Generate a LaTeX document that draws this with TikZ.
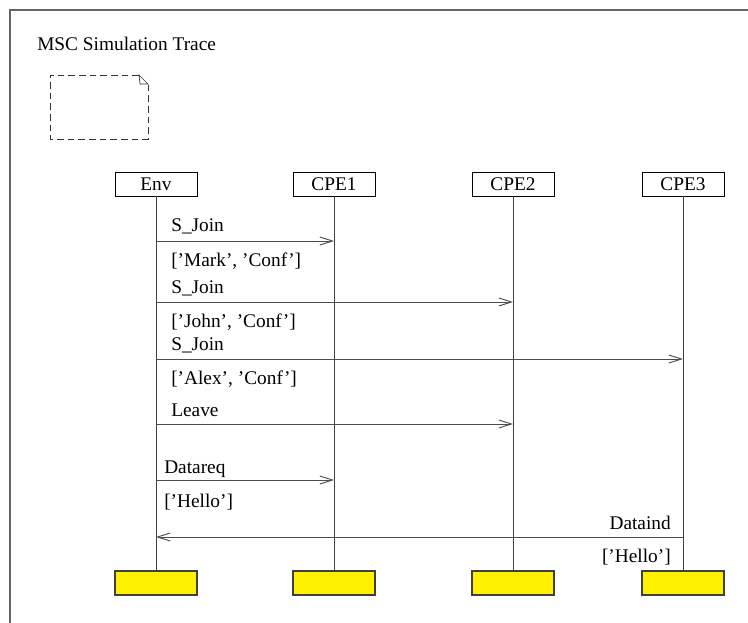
\documentclass[tikz,border=0pt]{standalone}
\usepackage{fontspec}
\setmainfont{Liberation Serif}
\usetikzlibrary{arrows.meta, positioning, calc}

\begin{document}
\begin{tikzpicture}[
    x=0.75pt, y=-0.75pt,
    font=\fontsize{14.5}{17}\selectfont,
    % --- Instance Heads ---
    instance/.style={
        draw=black,
        fill=white,
        line width=0.6pt,
        inner sep=0pt,
        minimum width=61.5pt,
        minimum height=18pt
    },
    % --- Instance Ends ---
    instance end/.style={
        draw=black!75,
        fill=yellow,
        line width=0.8pt,
        inner sep=0pt,
        minimum width=61.5pt,
        minimum height=18pt
    },
    % --- Lifelines ---
    lifeline/.style={
        draw=black!75,
        line width=0.7pt
    },
    % --- Messages ---
    msg arrow/.style={
        -{Straight Barb[length=9.5pt, width=6pt]},
        line width=0.7pt,
        color=black!70
    },
    % --- Message Texts ---
    msg label/.style={
        inner sep=0pt,
        anchor=base west
    },
    msg label right/.style={
        inner sep=0pt,
        anchor=base east
    }
]

    \useasboundingbox (0,0) rectangle (748,623);

    % =========================================
    % 1. FRAME AND TITLE
    % =========================================
    \draw[black!60, line width=1.5pt] (10,623) -- (10,10) -- (748,10);

    \node[msg label] (title) at (37,51) {MSC Simulation Trace};

    % Dashed comment sheet with folded corner
    \draw[black!80, line width=0.6pt, dash pattern=on 5pt off 3pt]
        (139,75) -- (50,75) -- (50,139) -- (148,139) -- (148,85);
    \draw[black!80, line width=0.5pt] (139,75) -- (148,84) -- (140,84) -- cycle;

    % =========================================
    % 2. INSTANCES
    % =========================================
    \foreach \name/\txt/\x in {env/Env/156, cpe1/CPE1/334, cpe2/CPE2/513, cpe3/CPE3/683} {
        \node[instance] (\name) at (\x,184) {\txt};
        \node[instance end] (\name end) at (\x,583) {};
        \draw[lifeline] (\name) -- (\name end);
    }

    % =========================================
    % 3. MESSAGES
    % =========================================
    \coordinate (m1) at (0,241);
    \coordinate (m2) at (0,302);
    \coordinate (m3) at (0,359);
    \coordinate (m4) at (0,424);
    \coordinate (m5) at (0,480);
    \coordinate (m6) at (0,537);

    \draw[msg arrow] (env |- m1) -- (cpe1 |- m1);
    \node[msg label] (m1 name) at (171,232) {S\_Join};
    \node[msg label] (m1 param) at (171,267) {['Mark', 'Conf']};

    \draw[msg arrow] (env |- m2) -- (cpe2 |- m2);
    \node[msg label] (m2 name) at (171,293) {S\_Join};
    \node[msg label] (m2 param) at (171,327) {['John', 'Conf']};

    \draw[msg arrow] (env |- m3) -- (cpe3 |- m3);
    \node[msg label] (m3 name) at (171,350) {S\_Join};
    \node[msg label] (m3 param) at (171,384) {['Alex', 'Conf']};

    \draw[msg arrow] (env |- m4) -- (cpe2 |- m4);
    \node[msg label] (m4 name) at (171,416) {Leave};

    \draw[msg arrow] (env |- m5) -- (cpe1 |- m5);
    \node[msg label] (m5 name) at (164,473) {Datareq};
    \node[msg label] (m5 param) at (164,507) {['Hello']};

    \draw[msg arrow] (cpe3 |- m6) -- (env |- m6);
    \node[msg label right] (m6 name) at (671,529) {Dataind};
    \node[msg label right] (m6 param) at (671,562) {['Hello']};

\end{tikzpicture}
\end{document}
